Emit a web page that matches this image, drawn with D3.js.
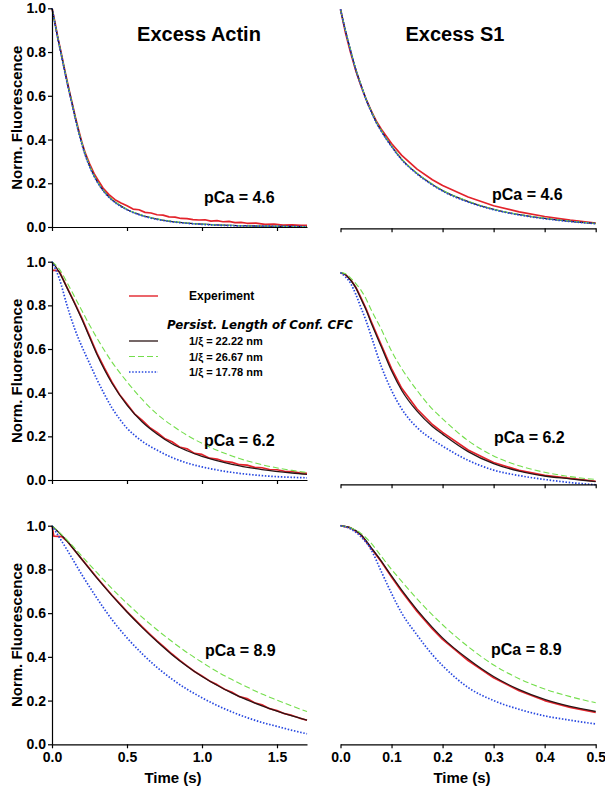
<!DOCTYPE html>
<html><head><meta charset="utf-8">
<script src="https://cdn.jsdelivr.net/npm/d3@7"></script>
<style>
body{margin:0;background:#fff}
svg{display:block}
text{font-family:"Liberation Sans",Arial,Helvetica,sans-serif;font-weight:bold;fill:#000}
</style>
</head><body>
<svg id="c" width="605" height="788"></svg>
<script>
// ---------- DATA (time s, normalized fluorescence) ----------
const panelTitles = ["Excess Actin", "Excess S1"];
const pCaLabels = ["pCa = 4.6", "pCa = 6.2", "pCa = 8.9"];
const yTicks = [0, 0.2, 0.4, 0.6, 0.8, 1.0];
const xTicksActin = [0, 0.5, 1.0, 1.5];
const xTicksS1 = [0, 0.1, 0.2, 0.3, 0.4, 0.5];
const legendLabels = ["Experiment", "1/\u03BE = 22.22 nm", "1/\u03BE = 26.67 nm", "1/\u03BE = 17.78 nm"];
const legendTitle = "Persist. Length of Conf. CFC";

// Excess Actin, pCa 4.6
const actin46_exp = [[0,1.0],[0.02,0.935],[0.04,0.862],[0.06,0.8],[0.08,0.733],[0.1,0.67],[0.12,0.608],[0.14,0.55],[0.16,0.49],[0.18,0.437],[0.2,0.385],[0.22,0.342],[0.25,0.29],[0.28,0.245],[0.3,0.222],[0.34,0.178],[0.38,0.148],[0.42,0.125],[0.46,0.11],[0.5,0.097],[0.54,0.082],[0.58,0.079],[0.62,0.067],[0.66,0.064],[0.7,0.056],[0.74,0.054],[0.78,0.046],[0.82,0.045],[0.86,0.039],[0.9,0.038],[0.94,0.034],[0.98,0.032],[1.02,0.033],[1.06,0.027],[1.1,0.029],[1.14,0.024],[1.18,0.026],[1.22,0.02],[1.26,0.021],[1.3,0.017],[1.36,0.018],[1.42,0.012],[1.48,0.013],[1.54,0.009],[1.6,0.01],[1.66,0.007],[1.7,0.007]];
const actin46_k22 = [[0,1.0],[0.02,0.93],[0.04,0.86],[0.06,0.795],[0.08,0.73],[0.1,0.665],[0.12,0.605],[0.14,0.545],[0.16,0.485],[0.18,0.43],[0.2,0.38],[0.22,0.335],[0.25,0.28],[0.3,0.21],[0.35,0.16],[0.4,0.125],[0.45,0.1],[0.5,0.08],[0.6,0.053],[0.7,0.036],[0.8,0.025],[0.9,0.018],[1.0,0.013],[1.2,0.007],[1.4,0.004],[1.7,0.002]];
const actin46_k26 = [[0,1.0],[0.02,0.931],[0.04,0.862],[0.06,0.797],[0.08,0.733],[0.1,0.668],[0.12,0.608],[0.14,0.548],[0.16,0.488],[0.18,0.433],[0.2,0.383],[0.22,0.338],[0.25,0.283],[0.3,0.212],[0.35,0.162],[0.4,0.127],[0.45,0.101],[0.5,0.081],[0.6,0.054],[0.7,0.037],[0.8,0.026],[0.9,0.018],[1.0,0.013],[1.2,0.007],[1.4,0.004],[1.7,0.002]];
const actin46_k17 = [[0,1.0],[0.02,0.929],[0.04,0.858],[0.06,0.793],[0.08,0.727],[0.1,0.662],[0.12,0.602],[0.14,0.542],[0.16,0.482],[0.18,0.427],[0.2,0.377],[0.22,0.332],[0.25,0.277],[0.3,0.208],[0.35,0.158],[0.4,0.123],[0.45,0.098],[0.5,0.079],[0.6,0.052],[0.7,0.035],[0.8,0.024],[0.9,0.017],[1.0,0.012],[1.2,0.006],[1.4,0.004],[1.7,0.002]];

// Excess S1, pCa 4.6
const s146_exp = [[0,1.0],[0.01,0.89],[0.02,0.8],[0.03,0.72],[0.04,0.652],[0.05,0.59],[0.06,0.537],[0.07,0.49],[0.08,0.452],[0.1,0.387],[0.12,0.333],[0.15,0.27],[0.18,0.222],[0.2,0.195],[0.25,0.143],[0.3,0.103],[0.35,0.075],[0.4,0.054],[0.45,0.037],[0.5,0.024]];
const s146_k22 = [[0,1.0],[0.01,0.9],[0.02,0.81],[0.03,0.725],[0.04,0.655],[0.05,0.59],[0.06,0.535],[0.07,0.485],[0.08,0.445],[0.1,0.375],[0.12,0.315],[0.15,0.25],[0.18,0.2],[0.2,0.172],[0.25,0.122],[0.3,0.086],[0.35,0.062],[0.4,0.045],[0.45,0.032],[0.5,0.022]];
const s146_k26 = [[0,1.0],[0.01,0.901],[0.02,0.812],[0.03,0.727],[0.04,0.657],[0.05,0.592],[0.06,0.537],[0.07,0.487],[0.08,0.447],[0.1,0.377],[0.12,0.317],[0.15,0.252],[0.18,0.202],[0.2,0.174],[0.25,0.124],[0.3,0.087],[0.35,0.063],[0.4,0.046],[0.45,0.033],[0.5,0.022]];
const s146_k17 = [[0,1.0],[0.01,0.899],[0.02,0.808],[0.03,0.723],[0.04,0.653],[0.05,0.588],[0.06,0.533],[0.07,0.483],[0.08,0.443],[0.1,0.373],[0.12,0.313],[0.15,0.248],[0.18,0.198],[0.2,0.17],[0.25,0.12],[0.3,0.085],[0.35,0.061],[0.4,0.044],[0.45,0.031],[0.5,0.021]];

// Excess Actin, pCa 6.2
const actin62_exp = [[0,0.96],[0.03,0.96],[0.05,0.955],[0.1,0.882],[0.15,0.812],[0.2,0.74],[0.25,0.66],[0.3,0.58],[0.35,0.512],[0.4,0.448],[0.45,0.392],[0.5,0.348],[0.55,0.303],[0.6,0.274],[0.65,0.241],[0.7,0.218],[0.75,0.19],[0.8,0.175],[0.85,0.151],[0.9,0.143],[0.95,0.122],[1.0,0.117],[1.05,0.1],[1.1,0.096],[1.15,0.085],[1.2,0.081],[1.25,0.07],[1.3,0.068],[1.35,0.058],[1.4,0.056],[1.45,0.048],[1.5,0.047],[1.55,0.04],[1.6,0.039],[1.65,0.033],[1.7,0.031]];
const actin62_k22 = [[0,1.0],[0.05,0.95],[0.1,0.88],[0.15,0.81],[0.2,0.735],[0.25,0.655],[0.3,0.575],[0.35,0.505],[0.4,0.443],[0.5,0.343],[0.6,0.267],[0.7,0.211],[0.8,0.166],[0.9,0.134],[1.0,0.108],[1.2,0.072],[1.4,0.048],[1.6,0.032],[1.7,0.026]];
const actin62_k26 = [[0,1.0],[0.05,0.965],[0.1,0.905],[0.15,0.84],[0.2,0.775],[0.25,0.71],[0.3,0.65],[0.4,0.54],[0.5,0.45],[0.6,0.37],[0.7,0.302],[0.8,0.25],[0.9,0.205],[1.0,0.168],[1.2,0.11],[1.4,0.07],[1.6,0.044],[1.7,0.034]];
const actin62_k17 = [[0,1.0],[0.05,0.92],[0.1,0.8],[0.15,0.695],[0.2,0.61],[0.25,0.535],[0.3,0.46],[0.35,0.392],[0.4,0.33],[0.45,0.28],[0.5,0.237],[0.55,0.205],[0.6,0.178],[0.7,0.137],[0.8,0.103],[0.9,0.078],[1.0,0.06],[1.2,0.035],[1.4,0.02],[1.7,0.01]];

// Excess S1, pCa 6.2
const s162_exp = [[0,0.95],[0.01,0.94],[0.02,0.917],[0.03,0.883],[0.04,0.835],[0.05,0.785],[0.06,0.727],[0.08,0.618],[0.1,0.51],[0.12,0.42],[0.15,0.325],[0.18,0.254],[0.2,0.218],[0.25,0.137],[0.3,0.08],[0.35,0.044],[0.4,0.021],[0.45,0.007],[0.5,-0.006]];
const s162_k22 = [[0,0.95],[0.01,0.94],[0.02,0.915],[0.03,0.88],[0.04,0.83],[0.05,0.78],[0.06,0.72],[0.08,0.61],[0.1,0.5],[0.12,0.41],[0.15,0.315],[0.18,0.245],[0.2,0.21],[0.25,0.13],[0.3,0.075],[0.35,0.04],[0.4,0.018],[0.45,0.005],[0.5,-0.008]];
const s162_k26 = [[0,0.95],[0.01,0.945],[0.02,0.925],[0.03,0.9],[0.04,0.87],[0.05,0.83],[0.06,0.78],[0.08,0.69],[0.1,0.59],[0.12,0.51],[0.15,0.41],[0.18,0.325],[0.2,0.28],[0.25,0.18],[0.3,0.11],[0.35,0.065],[0.4,0.035],[0.45,0.015],[0.5,0.002]];
const s162_k17 = [[0,0.95],[0.01,0.93],[0.02,0.9],[0.03,0.85],[0.04,0.79],[0.05,0.73],[0.06,0.66],[0.08,0.52],[0.1,0.41],[0.12,0.325],[0.15,0.24],[0.18,0.185],[0.2,0.155],[0.25,0.09],[0.3,0.045],[0.35,0.02],[0.4,0.002],[0.45,-0.012],[0.5,-0.022]];

// Excess Actin, pCa 8.9
const actin89_exp = [[0,1.0],[0.012,0.952],[0.065,0.95],[0.1,0.93],[0.15,0.888],[0.2,0.846],[0.25,0.804],[0.3,0.762],[0.35,0.722],[0.4,0.682],[0.45,0.645],[0.5,0.607],[0.55,0.573],[0.6,0.538],[0.65,0.505],[0.7,0.473],[0.75,0.443],[0.8,0.413],[0.85,0.385],[0.9,0.359],[0.95,0.333],[1.0,0.312],[1.05,0.29],[1.1,0.273],[1.15,0.252],[1.2,0.238],[1.25,0.218],[1.3,0.209],[1.35,0.19],[1.4,0.181],[1.45,0.163],[1.5,0.154],[1.55,0.14],[1.6,0.132],[1.65,0.12],[1.7,0.11]];
const actin89_k22 = [[0,1.0],[0.1,0.93],[0.2,0.845],[0.3,0.76],[0.4,0.68],[0.5,0.605],[0.6,0.535],[0.7,0.47],[0.8,0.41],[0.9,0.357],[1.0,0.31],[1.1,0.27],[1.2,0.234],[1.3,0.203],[1.4,0.176],[1.5,0.152],[1.6,0.13],[1.7,0.111]];
const actin89_k26 = [[0,1.0],[0.1,0.935],[0.2,0.86],[0.3,0.785],[0.4,0.712],[0.5,0.645],[0.6,0.582],[0.7,0.524],[0.8,0.47],[0.9,0.42],[1.0,0.375],[1.1,0.333],[1.2,0.296],[1.3,0.262],[1.4,0.23],[1.5,0.202],[1.6,0.175],[1.7,0.15]];
const actin89_k17 = [[0,1.0],[0.1,0.89],[0.2,0.775],[0.3,0.668],[0.4,0.57],[0.5,0.487],[0.6,0.415],[0.7,0.352],[0.8,0.298],[0.9,0.252],[1.0,0.213],[1.1,0.178],[1.2,0.148],[1.3,0.122],[1.4,0.1],[1.5,0.082],[1.6,0.064],[1.7,0.048]];

// Excess S1, pCa 8.9
const s189_exp = [[0,1.0],[0.02,0.99],[0.04,0.958],[0.06,0.897],[0.08,0.835],[0.1,0.765],[0.12,0.699],[0.15,0.608],[0.18,0.528],[0.2,0.48],[0.25,0.383],[0.3,0.304],[0.35,0.245],[0.4,0.2],[0.45,0.169],[0.5,0.146]];
const s189_k22 = [[0,1.0],[0.02,0.99],[0.04,0.96],[0.06,0.9],[0.08,0.838],[0.1,0.77],[0.12,0.705],[0.15,0.615],[0.18,0.535],[0.2,0.487],[0.25,0.39],[0.3,0.31],[0.35,0.25],[0.4,0.205],[0.45,0.173],[0.5,0.15]];
const s189_k26 = [[0,1.0],[0.02,0.99],[0.04,0.965],[0.06,0.92],[0.08,0.86],[0.1,0.8],[0.12,0.745],[0.15,0.665],[0.18,0.592],[0.2,0.547],[0.25,0.447],[0.3,0.363],[0.35,0.3],[0.4,0.253],[0.45,0.218],[0.5,0.19]];
const s189_k17 = [[0,1.0],[0.02,0.985],[0.04,0.95],[0.06,0.89],[0.08,0.79],[0.1,0.69],[0.12,0.6],[0.15,0.5],[0.18,0.41],[0.2,0.36],[0.25,0.26],[0.3,0.2],[0.35,0.16],[0.4,0.13],[0.45,0.11],[0.5,0.093]];

// ---------- LAYOUT ----------
const svg = d3.select("#c");
const fmt = d3.format(".1f");

const styles = {
  exp: {stroke:"#e3232b", width:1.7, dash:null, curve:d3.curveLinear},
  k22: {stroke:"#2a1515", width:1.3, dash:null, curve:d3.curveMonotoneX},
  k26: {stroke:"#74de4c", width:1.1, dash:"6,3", curve:d3.curveMonotoneX},
  k17: {stroke:"#2748e0", width:1.7, dash:"1.5,1.7", curve:d3.curveMonotoneX}
};

const colX = [
  {range:[52,307], domain:[0,1.7], ticks:xTicksActin, labelX:173},
  {range:[340.5,595.7], domain:[0,0.5], ticks:xTicksS1, labelX:462}
];
const panels = [
  {col:0,row:0,yDom:[0,1],yRange:[227,8.3],series:{exp:actin46_exp,k22:actin46_k22,k26:actin46_k26,k17:actin46_k17},pca:[204,203]},
  {col:1,row:0,yDom:[0,1],yRange:[228.3,9.3],series:{exp:s146_exp,k22:s146_k22,k26:s146_k26,k17:s146_k17},pca:[492,200]},
  {col:0,row:1,yDom:[0,1],yRange:[480,261.7],series:{exp:actin62_exp,k22:actin62_k22,k26:actin62_k26,k17:actin62_k17},pca:[204,446]},
  {col:1,row:1,yDom:[-0.02,1],yRange:[484.3,261.7],series:{exp:s162_exp,k22:s162_k22,k26:s162_k26,k17:s162_k17},pca:[494,443]},
  {col:0,row:2,yDom:[0,1],yRange:[744.3,525.7],series:{exp:actin89_exp,k22:actin89_k22,k26:actin89_k26,k17:actin89_k17},pca:[205,656]},
  {col:1,row:2,yDom:[0,1],yRange:[744.3,525.7],series:{exp:s189_exp,k22:s189_k22,k26:s189_k26,k17:s189_k17},pca:[491,655]}
];

panels.forEach(p => {
  const c = colX[p.col];
  const x = d3.scaleLinear().domain(c.domain).range(c.range);
  const y = d3.scaleLinear().domain(p.yDom).range(p.yRange);
  const g = svg.append("g");

  ["exp","k22","k26","k17"].forEach(k => {
    const s = styles[k];
    const line = d3.line().x(d => x(d[0])).y(d => y(d[1])).curve(s.curve);
    g.append("path").datum(p.series[k])
      .attr("d", line).attr("fill","none")
      .attr("stroke", s.stroke).attr("stroke-width", s.width)
      .attr("stroke-dasharray", s.dash)
      .attr("stroke-linejoin","round");
  });

  const xAxis = d3.axisBottom(x).tickValues(c.ticks).tickSize(4).tickSizeOuter(0).tickPadding(4)
    .tickFormat(p.row === 2 ? fmt : "");
  const xa = g.append("g").attr("transform", `translate(0,${p.yRange[0]})`).call(xAxis);
  xa.selectAll("text").style("font-size","14px").style("font-weight","bold").attr("fill","#000");
  xa.selectAll("path,line").attr("stroke","#000").attr("stroke-width",1.2);

  if (p.col === 0) {
    const yAxis = d3.axisLeft(y).tickValues(yTicks).tickSize(4).tickSizeOuter(0).tickPadding(2).tickFormat(fmt);
    const ya = g.append("g").attr("transform", `translate(${c.range[0]},0)`).call(yAxis);
    ya.selectAll("text").style("font-size","14px").style("font-weight","bold").attr("fill","#000");
    ya.selectAll("path,line").attr("stroke","#000").attr("stroke-width",1.2);
    g.append("text")
      .attr("transform", `translate(22,${(p.yRange[0]+p.yRange[1])/2}) rotate(-90)`)
      .attr("text-anchor","middle").style("font-size","15px")
      .text("Norm. Fluorescence");
  }

  g.append("text").attr("x", p.pca[0]).attr("y", p.pca[1])
    .style("font-size","16px").text(pCaLabels[p.row]);

  if (p.row === 2) {
    g.append("text").attr("x", c.labelX).attr("y", 783)
      .attr("text-anchor","middle").style("font-size","15px").text("Time (s)");
  }
});

svg.append("text").attr("x",199).attr("y",40.5).attr("text-anchor","middle")
  .style("font-size","20px").text(panelTitles[0]);
svg.append("text").attr("x",455).attr("y",40.5).attr("text-anchor","middle")
  .style("font-size","20px").text(panelTitles[1]);

const lg = svg.append("g");
const legendRows = [
  {key:"exp", y:296, label:legendLabels[0], size:12},
  {key:"k22", y:341, label:legendLabels[1], size:11},
  {key:"k26", y:356.5, label:legendLabels[2], size:11},
  {key:"k17", y:372, label:legendLabels[3], size:11}
];
legendRows.forEach(r => {
  const s = styles[r.key];
  lg.append("line").attr("x1",129).attr("x2",158).attr("y1",r.y).attr("y2",r.y)
    .attr("stroke", s.stroke).attr("stroke-width", r.key==="exp"?1.4:s.width)
    .attr("stroke-dasharray", s.dash);
  lg.append("text").attr("x",189).attr("y",r.y+4.2).style("font-size",r.size+"px").text(r.label);
});
lg.append("text").attr("x",167).attr("y",329)
  .style("font-family","'DejaVu Sans',Verdana,sans-serif").style("font-style","italic")
  .style("font-size","11.8px").text(legendTitle);
</script>
</body></html>
